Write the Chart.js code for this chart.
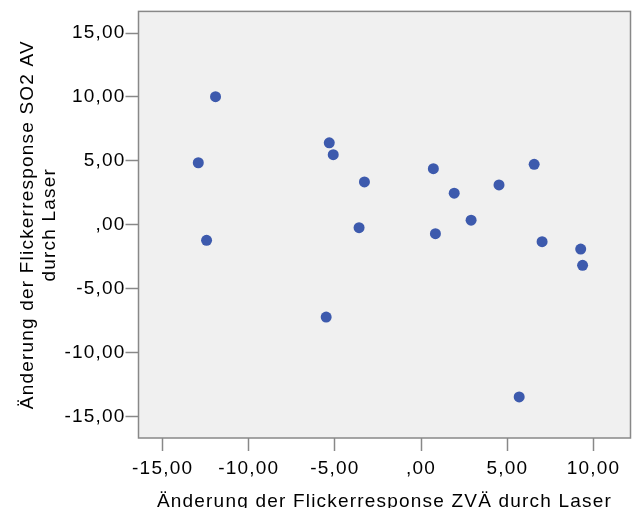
<!DOCTYPE html>
<html>
<head>
<meta charset="utf-8">
<script src="https://cdn.jsdelivr.net/npm/chart.js@4/dist/chart.umd.min.js"></script>
<style>
  body { margin: 0; background: #fff; }
  #wrap { width: 636px; height: 508px; }
</style>
</head>
<body>
<div id="wrap"><canvas id="scatterChart"></canvas></div>
<script>
// Change of flicker response through laser: ZVÄ (x) vs SO2 AV (y)
const xValues = [-11.93, -12.93, -12.45, -5.33, -5.10, -3.29, -3.60, 0.71, 1.92, 4.52,
                 6.56, 2.90, 0.83, 7.02, 9.26, 9.37, -5.51, 5.69];
const yValues = [10.02, 4.85, -1.22, 6.41, 5.48, 3.35, -0.23, 4.39, 2.47, 3.12,
                 4.73, 0.36, -0.70, -1.32, -1.90, -3.17, -7.22, -13.47];
const xTitle = 'Änderung der Flickerresponse ZVÄ durch Laser';
const yTitle = ['Änderung der Flickerresponse SO2 AV', 'durch Laser'];

const points = xValues.map((x, i) => ({ x: x, y: yValues[i] }));

// german style decimals, zero is shown as ",00"
function fmt(v) {
  if (v === 0) return ',00';
  return v.toFixed(2).replace('.', ',');
}

const font = { family: 'Liberation Sans, Arial, sans-serif', size: 19 };

// the reference text is a bit wider spaced than plain Arial
const spacing = {
  id: 'spacing',
  beforeLayout(chart) { chart.ctx.letterSpacing = '1.2px'; },
  beforeDraw(chart) { chart.ctx.letterSpacing = '1.2px'; }
};

// grey plot background and a full frame round the plot
const plotFrame = {
  id: 'plotFrame',
  beforeDraw(chart) {
    const { ctx, chartArea: a } = chart;
    ctx.save();
    ctx.fillStyle = '#f0f0f0';
    ctx.fillRect(a.left, a.top, a.right - a.left, a.bottom - a.top);
    ctx.restore();
  },
  afterDatasetsDraw(chart) {
    const { ctx, chartArea: a } = chart;
    ctx.save();
    ctx.strokeStyle = '#888888';
    ctx.lineWidth = 1.5;
    ctx.strokeRect(a.left, a.top, a.right - a.left, a.bottom - a.top);
    ctx.restore();
  }
};

new Chart('scatterChart', {
  type: 'scatter',
  data: {
    datasets: [{
      data: points,
      backgroundColor: '#3d5aad',
      borderColor: '#3d5aad',
      borderWidth: 0,
      pointRadius: 5.5
    }]
  },
  options: {
    responsive: true,
    maintainAspectRatio: false,
    animation: false,
    layout: { padding: { top: 10, right: 2, left: 0, bottom: 0 } },
    plugins: { legend: { display: false }, tooltip: { enabled: false } },
    scales: {
      x: {
        min: -16.4,
        max: 12.15,
        afterFit(scale) { scale.height = 70; },
        border: { display: false },
        grid: { drawOnChartArea: false, tickLength: 13, tickColor: '#888888', tickWidth: 1.5 },
        ticks: { stepSize: 5, includeBounds: false, padding: 6, color: '#000', font: font, callback: fmt, maxRotation: 0 },
        title: { display: true, text: xTitle, color: '#000', font: font, padding: { top: 0, bottom: -5 } }
      },
      y: {
        min: -16.68,
        max: 16.69,
        afterFit(scale) { scale.width = 138.5; },
        border: { display: false },
        grid: { drawOnChartArea: false, tickLength: 13, tickColor: '#888888', tickWidth: 1.5 },
        ticks: { stepSize: 5, includeBounds: false, padding: 0, color: '#000', font: font, callback: fmt },
        title: { display: true, text: yTitle, color: '#000', font: font, padding: { top: 16, bottom: 0 } }
      }
    }
  },
  plugins: [spacing, plotFrame]
});
</script>
</body>
</html>
